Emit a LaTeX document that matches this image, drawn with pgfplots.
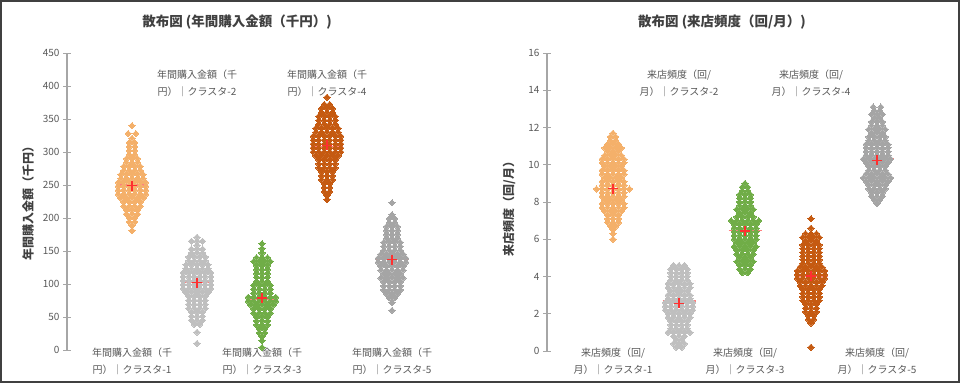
\documentclass[border=0pt]{standalone}
\usepackage{pgfplots}
\pgfplotsset{compat=1.18}
\usepackage{fontspec}
\setmainfont{Noto Sans CJK JP}
\definecolor{cOr}{HTML}{F4B06A}
\definecolor{cGl}{HTML}{BFBFBF}
\definecolor{cGr}{HTML}{70AD47}
\definecolor{cDo}{HTML}{C55A11}
\definecolor{cGd}{HTML}{A5A5A5}
\definecolor{txt}{HTML}{595959}
\definecolor{ttl}{HTML}{404040}
\definecolor{axl}{HTML}{A6A6A6}
\definecolor{meanc}{HTML}{FF3030}
\definecolor{medc}{HTML}{FF8080}
\pgfplotsset{
 sw/.style={only marks, color=#1, mark=square*, mark size=2.15bp, mark options={rotate=45, draw=#1, fill=#1, line width=0pt}},
 mn/.style={only marks, color=meanc, mark=+, mark size=5bp, mark options={draw=meanc, line width=1.4bp}},
 md/.style={medc, line width=1.2bp, no marks},
 panel/.style={scale only axis, clip=false, xmin=0, xmax=6, hide x axis,
  axis y line=left, y axis line style={-, draw=axl, line width=1.5bp},
  ytick style={draw=axl, line width=0.8bp}, tick align=center, major tick length=8bp,
  yticklabel style={font=\fontsize{10bp}{12bp}\selectfont, text=txt},
  /pgf/number format/assume math mode=true},
}
\tikzset{clab/.style={align=center, text=txt, font=\fontsize{10bp}{17bp}\selectfont, inner sep=0pt}}
\begin{document}
\begin{tikzpicture}[x=1bp,y=1bp]
\useasboundingbox (0,0) rectangle (960,383);
\fill[white] (0,0) rectangle (960,383);
% ---------------- Left panel
\begin{axis}[panel, at={(67bp,33bp)}, anchor=south west, width=390bp, height=297bp,
  ymin=0, ymax=450, ytick={0,50,...,450}]
\addplot[md] coordinates {(0.75,250)(1.25,250)};
\addplot[md] coordinates {(1.75,103)(2.25,103)};
\addplot[md] coordinates {(2.75,77)(3.25,77)};
\addplot[md] coordinates {(3.75,308)(4.25,308)};
\addplot[md] coordinates {(4.75,137)(5.25,137)};
\addplot[sw=cOr] table[row sep=\\, x expr=1+0.085*\thisrow{d}, y=y] {
d y\\
0 340\\
-0.7 328\\ 0.7 328\\
0 321\\
-0.5 314\\ 0.5 314\\
-0.5 308\\ 0.5 308\\
-0.5 302\\ 0.5 302\\
-0.5 296\\ 0.5 296\\
-1 290\\ 0 290\\ 1 290\\
-1 284\\ 0 284\\ 1 284\\
-1.5 278\\ -0.5 278\\ 0.5 278\\ 1.5 278\\
-1.5 272\\ -0.5 272\\ 0.5 272\\ 1.5 272\\
-2 266\\ -1 266\\ 0 266\\ 1 266\\ 2 266\\
-2 260\\ -1 260\\ 0 260\\ 1 260\\ 2 260\\
-2.5 254\\ -1.5 254\\ -0.5 254\\ 0.5 254\\ 1.5 254\\ 2.5 254\\
-2.5 248\\ -1.5 248\\ -0.5 248\\ 0.5 248\\ 1.5 248\\ 2.5 248\\
-2.5 242\\ -1.5 242\\ -0.5 242\\ 0.5 242\\ 1.5 242\\ 2.5 242\\
-2.5 236\\ -1.5 236\\ -0.5 236\\ 0.5 236\\ 1.5 236\\ 2.5 236\\
-2 230\\ -1 230\\ 0 230\\ 1 230\\ 2 230\\
-1.5 224\\ -0.5 224\\ 0.5 224\\ 1.5 224\\
-1.5 218\\ -0.5 218\\ 0.5 218\\ 1.5 218\\
-1 212\\ 0 212\\ 1 212\\
-1 206\\ 0 206\\ 1 206\\
-0.5 200\\ 0.5 200\\
-0.5 194\\ 0.5 194\\
0 188\\
0 181\\
};
\addplot[sw=cGl] table[row sep=\\, x expr=2+0.085*\thisrow{d}, y=y] {
d y\\
0 171\\
-1 165\\ 0 165\\ 1 165\\
0 159\\
-1 153\\ 0 153\\ 1 153\\
-1 147\\ 0 147\\ 1 147\\
-1.5 141\\ -0.5 141\\ 0.5 141\\ 1.5 141\\
-1.5 135\\ -0.5 135\\ 0.5 135\\ 1.5 135\\
-2 129\\ -1 129\\ 0 129\\ 1 129\\ 2 129\\
-2 123\\ -1 123\\ 0 123\\ 1 123\\ 2 123\\
-2.5 117\\ -1.5 117\\ -0.5 117\\ 0.5 117\\ 1.5 117\\ 2.5 117\\
-2.5 111\\ -1.5 111\\ -0.5 111\\ 0.5 111\\ 1.5 111\\ 2.5 111\\
-2.5 105\\ -1.5 105\\ -0.5 105\\ 0.5 105\\ 1.5 105\\ 2.5 105\\
-2.5 99\\ -1.5 99\\ -0.5 99\\ 0.5 99\\ 1.5 99\\ 2.5 99\\
-2.5 93\\ -1.5 93\\ -0.5 93\\ 0.5 93\\ 1.5 93\\ 2.5 93\\
-2 87\\ -1 87\\ 0 87\\ 1 87\\ 2 87\\
-1.5 81\\ -0.5 81\\ 0.5 81\\ 1.5 81\\
-1.5 75\\ -0.5 75\\ 0.5 75\\ 1.5 75\\
-1.5 69\\ -0.5 69\\ 0.5 69\\ 1.5 69\\
-1.5 63\\ -0.5 63\\ 0.5 63\\ 1.5 63\\
-1 57\\ 0 57\\ 1 57\\
-1 51\\ 0 51\\ 1 51\\
-1 45\\ 0 45\\ 1 45\\
-0.5 39\\ 0.5 39\\
0 27\\
0 10\\
};
\addplot[sw=cGr] table[row sep=\\, x expr=3+0.085*\thisrow{d}, y=y] {
d y\\
0 161\\
0 154\\
0 147\\
-1 140\\ 0 140\\ 1 140\\
-1.5 134\\ -0.5 134\\ 0.5 134\\ 1.5 134\\
-1 128\\ 0 128\\ 1 128\\
-1 122\\ 0 122\\ 1 122\\
-1 116\\ 0 116\\ 1 116\\
-1 110\\ 0 110\\ 1 110\\
-1 104\\ 0 104\\ 1 104\\
-1.5 98\\ -0.5 98\\ 0.5 98\\ 1.5 98\\
-1.5 92\\ -0.5 92\\ 0.5 92\\ 1.5 92\\
-1.5 86\\ -0.5 86\\ 0.5 86\\ 1.5 86\\
-2.5 80\\ -1.5 80\\ -0.5 80\\ 0.5 80\\ 1.5 80\\ 2.5 80\\
-2.5 74\\ -1.5 74\\ -0.5 74\\ 0.5 74\\ 1.5 74\\ 2.5 74\\
-2 68\\ -1 68\\ 0 68\\ 1 68\\ 2 68\\
-1.5 62\\ -0.5 62\\ 0.5 62\\ 1.5 62\\
-1.5 56\\ -0.5 56\\ 0.5 56\\ 1.5 56\\
-1 50\\ 0 50\\ 1 50\\
-1 44\\ 0 44\\ 1 44\\
-1 38\\ 0 38\\ 1 38\\
-0.5 32\\ 0.5 32\\
-0.5 26\\ 0.5 26\\
0 20\\
0 14\\
0 4\\
};
\addplot[sw=cDo] table[row sep=\\, x expr=4+0.085*\thisrow{d}, y=y] {
d y\\
0 383\\
-0.5 372\\ 0.5 372\\
-1 366\\ 0 366\\ 1 366\\
-1 360\\ 0 360\\ 1 360\\
-1.5 354\\ -0.5 354\\ 0.5 354\\ 1.5 354\\
-1.5 348\\ -0.5 348\\ 0.5 348\\ 1.5 348\\
-1.5 342\\ -0.5 342\\ 0.5 342\\ 1.5 342\\
-2 336\\ -1 336\\ 0 336\\ 1 336\\ 2 336\\
-2 330\\ -1 330\\ 0 330\\ 1 330\\ 2 330\\
-2.5 324\\ -1.5 324\\ -0.5 324\\ 0.5 324\\ 1.5 324\\ 2.5 324\\
-2.5 318\\ -1.5 318\\ -0.5 318\\ 0.5 318\\ 1.5 318\\ 2.5 318\\
-2.5 312\\ -1.5 312\\ -0.5 312\\ 0.5 312\\ 1.5 312\\ 2.5 312\\
-2.5 306\\ -1.5 306\\ -0.5 306\\ 0.5 306\\ 1.5 306\\ 2.5 306\\
-2.5 300\\ -1.5 300\\ -0.5 300\\ 0.5 300\\ 1.5 300\\ 2.5 300\\
-2 294\\ -1 294\\ 0 294\\ 1 294\\ 2 294\\
-1.5 288\\ -0.5 288\\ 0.5 288\\ 1.5 288\\
-1.5 282\\ -0.5 282\\ 0.5 282\\ 1.5 282\\
-1.5 276\\ -0.5 276\\ 0.5 276\\ 1.5 276\\
-1 270\\ 0 270\\ 1 270\\
-1 264\\ 0 264\\ 1 264\\
-1 258\\ 0 258\\ 1 258\\
-0.5 252\\ 0.5 252\\
-0.5 246\\ 0.5 246\\
-0.5 240\\ 0.5 240\\
0 234\\
0 228\\
};
\addplot[sw=cGd] table[row sep=\\, x expr=5+0.085*\thisrow{d}, y=y] {
d y\\
0 223\\
0 205\\
-0.5 199\\ 0.5 199\\
-0.5 193\\ 0.5 193\\
-1 187\\ 0 187\\ 1 187\\
-1 181\\ 0 181\\ 1 181\\
-1 175\\ 0 175\\ 1 175\\
-1 169\\ 0 169\\ 1 169\\
-1.5 163\\ -0.5 163\\ 0.5 163\\ 1.5 163\\
-1.5 157\\ -0.5 157\\ 0.5 157\\ 1.5 157\\
-1.5 151\\ -0.5 151\\ 0.5 151\\ 1.5 151\\
-2 145\\ -1 145\\ 0 145\\ 1 145\\ 2 145\\
-2.5 139\\ -1.5 139\\ -0.5 139\\ 0.5 139\\ 1.5 139\\ 2.5 139\\
-2.5 133\\ -1.5 133\\ -0.5 133\\ 0.5 133\\ 1.5 133\\ 2.5 133\\
-2 127\\ -1 127\\ 0 127\\ 1 127\\ 2 127\\
-2 121\\ -1 121\\ 0 121\\ 1 121\\ 2 121\\
-1.5 115\\ -0.5 115\\ 0.5 115\\ 1.5 115\\
-2 109\\ -1 109\\ 0 109\\ 1 109\\ 2 109\\
-1.5 103\\ -0.5 103\\ 0.5 103\\ 1.5 103\\
-1.5 97\\ -0.5 97\\ 0.5 97\\ 1.5 97\\
-1.5 91\\ -0.5 91\\ 0.5 91\\ 1.5 91\\
-1 85\\ 0 85\\ 1 85\\
-0.5 79\\ 0.5 79\\
0 72\\
0 60\\
};
\addplot[mn] coordinates {(1,249)(2,102)(3,79)(4,310)(5,137)};
\end{axis}
% ---------------- Right panel
\begin{axis}[panel, at={(547bp,32bp)}, anchor=south west, width=396bp, height=298bp,
  ymin=0, ymax=16, ytick={0,2,...,16}]
\addplot[md] coordinates {(0.75,8.72)(1.25,8.72)};
\addplot[md] coordinates {(1.75,2.68)(2.25,2.68)};
\addplot[md] coordinates {(2.75,6.45)(3.25,6.45)};
\addplot[md] coordinates {(3.75,4.02)(4.25,4.02)};
\addplot[md] coordinates {(4.75,10.31)(5.25,10.31)};
\addplot[sw=cOr] table[row sep=\\, x expr=1+0.083*\thisrow{d}, y=y] {
d y\\
0 11.7\\
-0.5 11.5\\ 0.5 11.5\\
-0.5 11.3\\ 0.5 11.3\\
-1 11.1\\ 0 11.1\\ 1 11.1\\
-1.5 10.9\\ -0.5 10.9\\ 0.5 10.9\\ 1.5 10.9\\
-1 10.7\\ 0 10.7\\ 1 10.7\\
-1.5 10.5\\ -0.5 10.5\\ 0.5 10.5\\ 1.5 10.5\\
-2 10.3\\ -1 10.3\\ 0 10.3\\ 1 10.3\\ 2 10.3\\
-2 10.1\\ -1 10.1\\ 0 10.1\\ 1 10.1\\ 2 10.1\\
-1.5 9.9\\ -0.5 9.9\\ 0.5 9.9\\ 1.5 9.9\\
-2 9.7\\ -1 9.7\\ 0 9.7\\ 1 9.7\\ 2 9.7\\
-2 9.5\\ -1 9.5\\ 0 9.5\\ 1 9.5\\ 2 9.5\\
-1.5 9.3\\ -0.5 9.3\\ 0.5 9.3\\ 1.5 9.3\\
-2 9.1\\ -1 9.1\\ 0 9.1\\ 1 9.1\\ 2 9.1\\
-2 8.9\\ -1 8.9\\ 0 8.9\\ 1 8.9\\ 2 8.9\\
-3 8.7\\ -2 8.7\\ -1 8.7\\ 0 8.7\\ 1 8.7\\ 2 8.7\\ 3 8.7\\
-2 8.5\\ -1 8.5\\ 0 8.5\\ 1 8.5\\ 2 8.5\\
-2 8.3\\ -1 8.3\\ 0 8.3\\ 1 8.3\\ 2 8.3\\
-1.5 8.1\\ -0.5 8.1\\ 0.5 8.1\\ 1.5 8.1\\
-2 7.9\\ -1 7.9\\ 0 7.9\\ 1 7.9\\ 2 7.9\\
-2 7.7\\ -1 7.7\\ 0 7.7\\ 1 7.7\\ 2 7.7\\
-1.5 7.5\\ -0.5 7.5\\ 0.5 7.5\\ 1.5 7.5\\
-1 7.3\\ 0 7.3\\ 1 7.3\\
-1 7.1\\ 0 7.1\\ 1 7.1\\
-1 6.9\\ 0 6.9\\ 1 6.9\\
-0.5 6.7\\ 0.5 6.7\\
0 6.5\\
0 6.3\\
0 6.0\\
};
\addplot[sw=cGl] table[row sep=\\, x expr=2+0.083*\thisrow{d}, y=y] {
d y\\
-1 4.6\\ 0 4.6\\ 1 4.6\\
-1.5 4.4\\ -0.5 4.4\\ 0.5 4.4\\ 1.5 4.4\\
-1.5 4.2\\ -0.5 4.2\\ 0.5 4.2\\ 1.5 4.2\\
-1.5 4.0\\ -0.5 4.0\\ 0.5 4.0\\ 1.5 4.0\\
-1.5 3.8\\ -0.5 3.8\\ 0.5 3.8\\ 1.5 3.8\\
-2 3.6\\ -1 3.6\\ 0 3.6\\ 1 3.6\\ 2 3.6\\
-2 3.4\\ -1 3.4\\ 0 3.4\\ 1 3.4\\ 2 3.4\\
-1.5 3.2\\ -0.5 3.2\\ 0.5 3.2\\ 1.5 3.2\\
-2 3.0\\ -1 3.0\\ 0 3.0\\ 1 3.0\\ 2 3.0\\
-2 2.8\\ -1 2.8\\ 0 2.8\\ 1 2.8\\ 2 2.8\\
-2.5 2.6\\ -1.5 2.6\\ -0.5 2.6\\ 0.5 2.6\\ 1.5 2.6\\ 2.5 2.6\\
-2.5 2.4\\ -1.5 2.4\\ -0.5 2.4\\ 0.5 2.4\\ 1.5 2.4\\ 2.5 2.4\\
-2.5 2.2\\ -1.5 2.2\\ -0.5 2.2\\ 0.5 2.2\\ 1.5 2.2\\ 2.5 2.2\\
-2 2.0\\ -1 2.0\\ 0 2.0\\ 1 2.0\\ 2 2.0\\
-2 1.8\\ -1 1.8\\ 0 1.8\\ 1 1.8\\ 2 1.8\\
-1.5 1.6\\ -0.5 1.6\\ 0.5 1.6\\ 1.5 1.6\\
-1.5 1.4\\ -0.5 1.4\\ 0.5 1.4\\ 1.5 1.4\\
-1.5 1.2\\ -0.5 1.2\\ 0.5 1.2\\ 1.5 1.2\\
-2 1.0\\ -1 1.0\\ 0 1.0\\ 1 1.0\\ 2 1.0\\
-1 0.8\\ 0 0.8\\ 1 0.8\\
-0.5 0.6\\ 0.5 0.6\\
-1 0.4\\ 0 0.4\\ 1 0.4\\
-0.5 0.2\\ 0.5 0.2\\
};
\addplot[sw=cGr] table[row sep=\\, x expr=3+0.083*\thisrow{d}, y=y] {
d y\\
0 9.0\\
-0.5 8.8\\ 0.5 8.8\\
-0.5 8.6\\ 0.5 8.6\\
-1 8.4\\ 0 8.4\\ 1 8.4\\
-1 8.2\\ 0 8.2\\ 1 8.2\\
-1 8.0\\ 0 8.0\\ 1 8.0\\
-1 7.8\\ 0 7.8\\ 1 7.8\\
-1.5 7.6\\ -0.5 7.6\\ 0.5 7.6\\ 1.5 7.6\\
-1 7.4\\ 0 7.4\\ 1 7.4\\
-1.5 7.2\\ -0.5 7.2\\ 0.5 7.2\\ 1.5 7.2\\
-2.5 7.0\\ -1.5 7.0\\ -0.5 7.0\\ 0.5 7.0\\ 1.5 7.0\\ 2.5 7.0\\
-2 6.8\\ -1 6.8\\ 0 6.8\\ 1 6.8\\ 2 6.8\\
-2 6.6\\ -1 6.6\\ 0 6.6\\ 1 6.6\\ 2 6.6\\
-2 6.4\\ -1 6.4\\ 0 6.4\\ 1 6.4\\ 2 6.4\\
-2 6.2\\ -1 6.2\\ 0 6.2\\ 1 6.2\\ 2 6.2\\
-2 6.0\\ -1 6.0\\ 0 6.0\\ 1 6.0\\ 2 6.0\\
-1.5 5.8\\ -0.5 5.8\\ 0.5 5.8\\ 1.5 5.8\\
-2 5.6\\ -1 5.6\\ 0 5.6\\ 1 5.6\\ 2 5.6\\
-1.5 5.4\\ -0.5 5.4\\ 0.5 5.4\\ 1.5 5.4\\
-1.5 5.2\\ -0.5 5.2\\ 0.5 5.2\\ 1.5 5.2\\
-1 5.0\\ 0 5.0\\ 1 5.0\\
-1.5 4.8\\ -0.5 4.8\\ 0.5 4.8\\ 1.5 4.8\\
-1 4.6\\ 0 4.6\\ 1 4.6\\
-1 4.4\\ 0 4.4\\ 1 4.4\\
-0.5 4.2\\ 0.5 4.2\\
};
\addplot[sw=cDo] table[row sep=\\, x expr=4+0.083*\thisrow{d}, y=y] {
d y\\
0 7.1\\
0 6.6\\
-1 6.3\\ 0 6.3\\ 1 6.3\\
-1.5 6.1\\ -0.5 6.1\\ 0.5 6.1\\ 1.5 6.1\\
-1 5.9\\ 0 5.9\\ 1 5.9\\
-1.5 5.7\\ -0.5 5.7\\ 0.5 5.7\\ 1.5 5.7\\
-1.5 5.5\\ -0.5 5.5\\ 0.5 5.5\\ 1.5 5.5\\
-1.5 5.3\\ -0.5 5.3\\ 0.5 5.3\\ 1.5 5.3\\
-1.5 5.1\\ -0.5 5.1\\ 0.5 5.1\\ 1.5 5.1\\
-1.5 4.9\\ -0.5 4.9\\ 0.5 4.9\\ 1.5 4.9\\
-1.5 4.7\\ -0.5 4.7\\ 0.5 4.7\\ 1.5 4.7\\
-2 4.5\\ -1 4.5\\ 0 4.5\\ 1 4.5\\ 2 4.5\\
-2.5 4.3\\ -1.5 4.3\\ -0.5 4.3\\ 0.5 4.3\\ 1.5 4.3\\ 2.5 4.3\\
-2.5 4.1\\ -1.5 4.1\\ -0.5 4.1\\ 0.5 4.1\\ 1.5 4.1\\ 2.5 4.1\\
-2.5 3.9\\ -1.5 3.9\\ -0.5 3.9\\ 0.5 3.9\\ 1.5 3.9\\ 2.5 3.9\\
-2 3.7\\ -1 3.7\\ 0 3.7\\ 1 3.7\\ 2 3.7\\
-2 3.5\\ -1 3.5\\ 0 3.5\\ 1 3.5\\ 2 3.5\\
-1.5 3.3\\ -0.5 3.3\\ 0.5 3.3\\ 1.5 3.3\\
-1.5 3.1\\ -0.5 3.1\\ 0.5 3.1\\ 1.5 3.1\\
-1.5 2.9\\ -0.5 2.9\\ 0.5 2.9\\ 1.5 2.9\\
-1.5 2.7\\ -0.5 2.7\\ 0.5 2.7\\ 1.5 2.7\\
-1 2.5\\ 0 2.5\\ 1 2.5\\
-1 2.3\\ 0 2.3\\ 1 2.3\\
-1 2.1\\ 0 2.1\\ 1 2.1\\
-0.5 1.9\\ 0.5 1.9\\
-0.5 1.7\\ 0.5 1.7\\
0 1.5\\
0 0.2\\
};
\addplot[sw=cGd] table[row sep=\\, x expr=5+0.083*\thisrow{d}, y=y] {
d y\\
-0.7 13.1\\ 0.7 13.1\\
-0.5 12.9\\ 0.5 12.9\\
-1 12.7\\ 0 12.7\\ 1 12.7\\
-0.5 12.5\\ 0.5 12.5\\
-1 12.3\\ 0 12.3\\ 1 12.3\\
-1 12.1\\ 0 12.1\\ 1 12.1\\
-1.5 11.9\\ -0.5 11.9\\ 0.5 11.9\\ 1.5 11.9\\
-1 11.7\\ 0 11.7\\ 1 11.7\\
-1.5 11.5\\ -0.5 11.5\\ 0.5 11.5\\ 1.5 11.5\\
-1.5 11.3\\ -0.5 11.3\\ 0.5 11.3\\ 1.5 11.3\\
-2 11.1\\ -1 11.1\\ 0 11.1\\ 1 11.1\\ 2 11.1\\
-2 10.9\\ -1 10.9\\ 0 10.9\\ 1 10.9\\ 2 10.9\\
-2 10.7\\ -1 10.7\\ 0 10.7\\ 1 10.7\\ 2 10.7\\
-2 10.5\\ -1 10.5\\ 0 10.5\\ 1 10.5\\ 2 10.5\\
-2.5 10.3\\ -1.5 10.3\\ -0.5 10.3\\ 0.5 10.3\\ 1.5 10.3\\ 2.5 10.3\\
-2 10.1\\ -1 10.1\\ 0 10.1\\ 1 10.1\\ 2 10.1\\
-1.5 9.9\\ -0.5 9.9\\ 0.5 9.9\\ 1.5 9.9\\
-1.5 9.7\\ -0.5 9.7\\ 0.5 9.7\\ 1.5 9.7\\
-2 9.5\\ -1 9.5\\ 0 9.5\\ 1 9.5\\ 2 9.5\\
-2.5 9.3\\ -1.5 9.3\\ -0.5 9.3\\ 0.5 9.3\\ 1.5 9.3\\ 2.5 9.3\\
-2 9.1\\ -1 9.1\\ 0 9.1\\ 1 9.1\\ 2 9.1\\
-1.5 8.9\\ -0.5 8.9\\ 0.5 8.9\\ 1.5 8.9\\
-1.5 8.7\\ -0.5 8.7\\ 0.5 8.7\\ 1.5 8.7\\
-1 8.5\\ 0 8.5\\ 1 8.5\\
-1 8.3\\ 0 8.3\\ 1 8.3\\
-0.5 8.1\\ 0.5 8.1\\
0 7.9\\
};
\addplot[mn] coordinates {(1,8.72)(2,2.56)(3,6.45)(4,4.02)(5,10.24)};
\end{axis}
% ---------------- Texts
\node[text=ttl, font=\fontsize{13.5bp}{16bp}\selectfont\bfseries] at (237,361) {散布図 (年間購入金額（千円）)};
\node[text=ttl, font=\fontsize{13.5bp}{16bp}\selectfont\bfseries] at (722,361) {散布図 (来店頻度（回/月）)};
\node[rotate=90, text=ttl, font=\fontsize{12bp}{14bp}\selectfont\bfseries] at (28,183) {年間購入金額（千円）};
\node[rotate=90, text=ttl, font=\fontsize{12bp}{14bp}\selectfont\bfseries] at (509,177) {来店頻度（回/月）};
\node[clab] at (132,22) {年間購入金額（千\\円）｜クラスタ-1};
\node[clab] at (262,22) {年間購入金額（千\\円）｜クラスタ-3};
\node[clab] at (392,22) {年間購入金額（千\\円）｜クラスタ-5};
\node[clab] at (197,300) {年間購入金額（千\\円）｜クラスタ-2};
\node[clab] at (327,300) {年間購入金額（千\\円）｜クラスタ-4};
\node[clab] at (613,22) {来店頻度（回/\\月）｜クラスタ-1};
\node[clab] at (745,22) {来店頻度（回/\\月）｜クラスタ-3};
\node[clab] at (877,22) {来店頻度（回/\\月）｜クラスタ-5};
\node[clab] at (679,300) {来店頻度（回/\\月）｜クラスタ-2};
\node[clab] at (811,300) {来店頻度（回/\\月）｜クラスタ-4};
\draw[line width=2bp, black!75] (1,1) rectangle (959,382);
\end{tikzpicture}
\end{document}
